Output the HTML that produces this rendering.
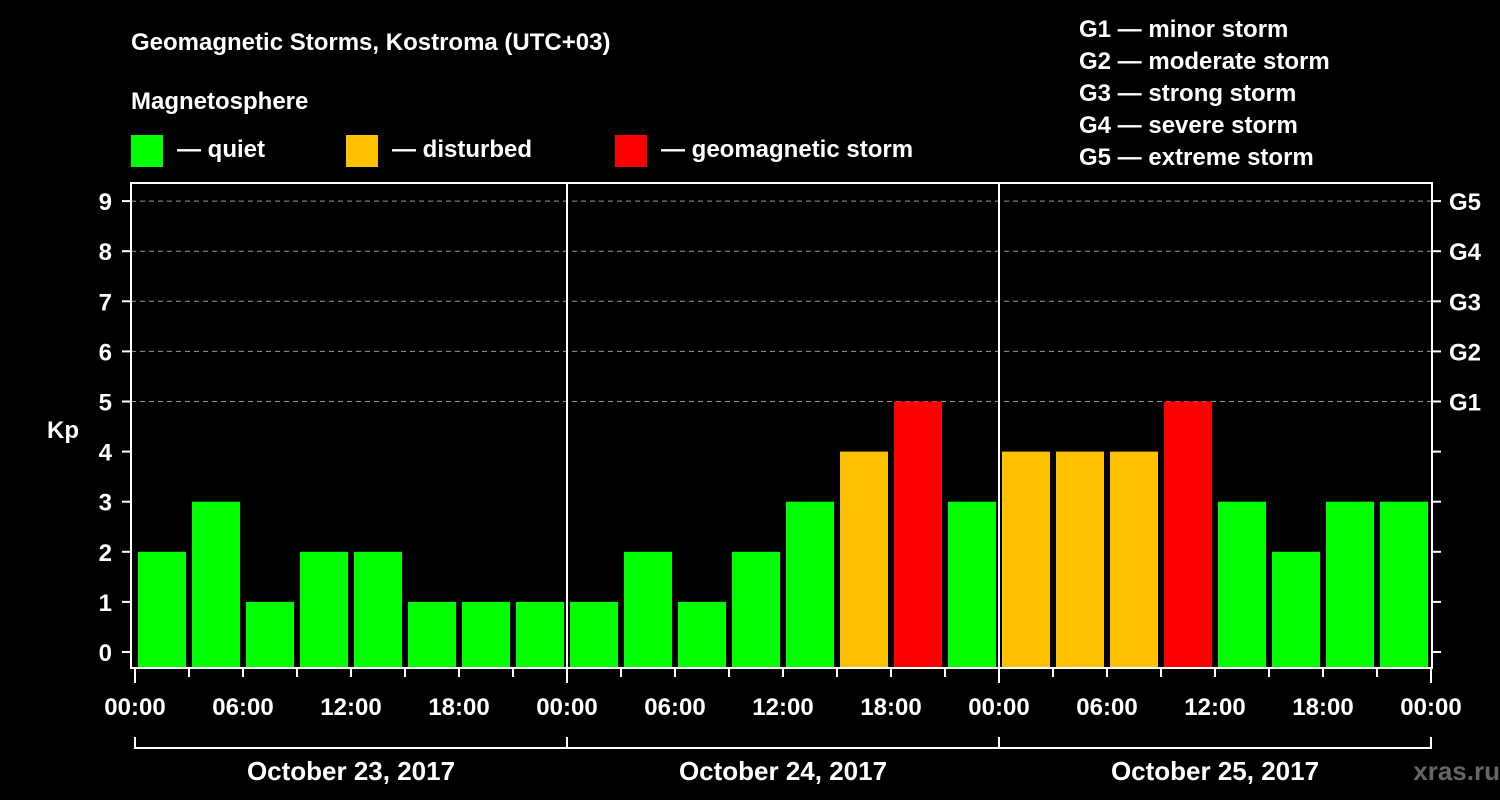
<!DOCTYPE html>
<html><head><meta charset="utf-8"><style>
body{margin:0;background:#000;width:1500px;height:800px;overflow:hidden}
svg{display:block}
text{font-family:"Liberation Sans",Arial,sans-serif;font-weight:bold;fill:#fff}
</style></head><body>
<svg id="c" width="1500" height="800"></svg>
<script>
const kpValues=[2,3,1,2,2,1,1,1, 1,2,1,2,3,4,5,3, 4,4,4,5,3,2,3,3];
const dayLabels=["October 23, 2017","October 24, 2017","October 25, 2017"];
const hourLabels=["00:00","06:00","12:00","18:00"];
const yTicks=[0,1,2,3,4,5,6,7,8,9];
const gLabels=["G1","G2","G3","G4","G5"];

const NS="http://www.w3.org/2000/svg";
const svg=document.getElementById('c');
function el(t,a,p){const e=document.createElementNS(NS,t);for(const k in a)e.setAttribute(k,a[k]);(p||svg).appendChild(e);return e;}
const X0=135,DAY=432,L=131,R=1432,T=183,B=668;
const y=v=>652-v*50.1;
const x=h=>X0+h*DAY/24;
function txt(s,xx,yy,size,anchor,name,fill){const t=el('text',{x:xx,y:yy,'font-size':size,'text-anchor':anchor||'start'});if(fill)t.setAttribute('style','fill:'+fill);t.textContent=s;return t;}

txt("Geomagnetic Storms, Kostroma (UTC+03)",131,50,24,'start','chart-title');
txt("Magnetosphere",131,109,24,'start','legend-title');
const leg=[["#00ff00","— quiet",131],["#ffc000","— disturbed",346],["#ff0000","— geomagnetic storm",615]];
leg.forEach((l,i)=>{const r=el('rect',{x:l[2],y:135,width:32,height:32,fill:l[0]});txt(l[1],l[2]+46,157,24,'start','legend-entry-'+i);});
["G1 — minor storm","G2 — moderate storm","G3 — strong storm","G4 — severe storm","G5 — extreme storm"].forEach((s,i)=>txt(s,1079,37+i*32,24,'start','g-scale-'+(i+1)));

// grid
[5,6,7,8,9].forEach(v=>{const g=el('line',{x1:L,x2:R,y1:y(v),y2:y(v),stroke:'#999','stroke-dasharray':'5,4','stroke-width':1});});
// bars
kpValues.forEach((v,i)=>{const c=v>=5?'#ff0000':v==4?'#ffc000':'#00ff00';const b=el('rect',{x:x(i*3)+3,y:y(v),width:48,height:B-y(v),fill:c});});
// frame
const f=el('rect',{x:L,y:T,width:R-L,height:B-T,fill:'none',stroke:'#fff','stroke-width':2});
[1,2].forEach(d=>{const l=el('line',{x1:x(d*24),x2:x(d*24),y1:T,y2:B,stroke:'#fff','stroke-width':2});});
// y ticks
yTicks.forEach(v=>{el('line',{x1:122,x2:L,y1:y(v),y2:y(v),stroke:'#fff','stroke-width':2});el('line',{x1:R,x2:1441,y1:y(v),y2:y(v),stroke:'#fff','stroke-width':2});txt(String(v),112,y(v)+9,24,'end','y-tick-'+v);});
gLabels.forEach((g,i)=>txt(g,1449,y(5+i)+9,24,'start','g-tick-'+g));
txt("Kp",63,438,24,'middle','y-axis-title');
// x ticks
for(let h=0;h<=72;h+=3){const big=h%24==0;el('line',{x1:x(h),x2:x(h),y1:B,y2:big?683:677,stroke:'#fff','stroke-width':2});}
for(let h=0;h<=72;h+=6)txt(hourLabels[(h/6)%4],x(h),715,24,'middle','x-tick-'+h);
el('polyline',{points:`${x(0)},737 ${x(0)},748 ${x(72)},748 ${x(72)},737`,fill:'none',stroke:'#fff','stroke-width':2});
[1,2].forEach(d=>el('line',{x1:x(d*24),x2:x(d*24),y1:737,y2:748,stroke:'#fff','stroke-width':2}));
dayLabels.forEach((d,i)=>txt(d,x(i*24+12),780,26,'middle','day-label-'+i));
txt("xras.ru",1500,780,26,'end','watermark','#666');
</script>
</body></html>
